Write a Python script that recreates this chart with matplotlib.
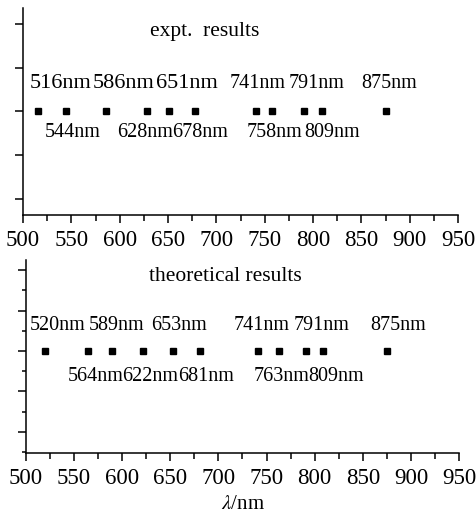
import matplotlib
matplotlib.use("Agg")
import matplotlib.pyplot as plt
from matplotlib.ticker import MultipleLocator

plt.rcParams['font.family'] = ['Liberation Serif', 'DejaVu Serif']
plt.rcParams['mathtext.fontset'] = 'stix'

# wavelengths (nm) of the peaks
expt_up = [516, 586, 651, 741, 791, 875]
expt_low = [544, 628, 678, 758, 809]
theo_up = [520, 589, 653, 741, 791, 875]
theo_low = [564, 622, 681, 763, 809]

# label centres along the axis (nm), as placed in the original figure
expt_up_lx = [539, 604, 670, 743, 804, 879]
expt_low_lx = [551, 626, 683, 760, 820]
theo_up_lx = [533, 594, 659, 745, 807, 887]
theo_low_lx = [572, 629, 687, 766, 822]

xticks = [500, 550, 600, 650, 700, 750, 800, 850, 900, 950]


def setup_axis(ax, minor_y):
    ax.set_xlim(500, 950)
    ax.set_xticks(xticks)
    ax.xaxis.set_minor_locator(MultipleLocator(25))
    ax.set_yticks([0, 1, 2, 3, 4])
    ax.set_yticklabels([])
    if minor_y:
        ax.yaxis.set_minor_locator(MultipleLocator(0.5))
    ax.spines['top'].set_visible(False)
    ax.spines['right'].set_visible(False)
    for s in ['left', 'bottom']:
        ax.spines[s].set_linewidth(1.1)
    ax.tick_params(axis='x', which='major', direction='out', length=6, width=1.1,
                   labelsize=16.5, pad=5)
    ax.tick_params(axis='x', which='minor', direction='out', length=4, width=1.1)
    ax.tick_params(axis='y', which='major', direction='out', length=6, width=1.1)
    ax.tick_params(axis='y', which='minor', direction='out', length=3, width=1.1)


def draw_panel(ax, up, low, up_lx, low_lx, y_up, y_low, big=()):
    pts = up + low
    ax.plot(pts, [2] * len(pts), 's', color='black', markersize=4.2, clip_on=False)
    for v, lx in zip(up, up_lx):
        fs = 16 if v in big else 14.5
        ax.text(lx, y_up, f"{v}nm", ha='center', va='center', fontsize=fs)
    for v, lx in zip(low, low_lx):
        ax.text(lx, y_low, f"{v}nm", ha='center', va='center', fontsize=14.5)


fig = plt.figure(figsize=(4.76, 5.15), dpi=100)

ax1 = fig.add_axes([23 / 476, (515 - 215) / 515, 435 / 476, 207 / 515])
ax1.set_ylim(-0.366, 4.366)
setup_axis(ax1, minor_y=False)
draw_panel(ax1, expt_up, expt_low, expt_up_lx, expt_low_lx, 2.63, 1.51,
           big=(516, 586, 651))
ax1.text(688, 3.82, "expt.  results", ha='center', va='center', fontsize=15.5)

ax2 = fig.add_axes([26 / 476, (515 - 453) / 515, 433 / 476, 193 / 515])
ax2.set_ylim(-0.52, 4.25)
setup_axis(ax2, minor_y=True)
draw_panel(ax2, theo_up, theo_low, theo_up_lx, theo_low_lx, 2.64, 1.36)
ax2.text(707, 3.85, "theoretical results", ha='center', va='center', fontsize=15.5)
ax2.set_xlabel(r"$\lambda$/nm", fontsize=15, labelpad=4)

fig.savefig("out.png", dpi=100)
